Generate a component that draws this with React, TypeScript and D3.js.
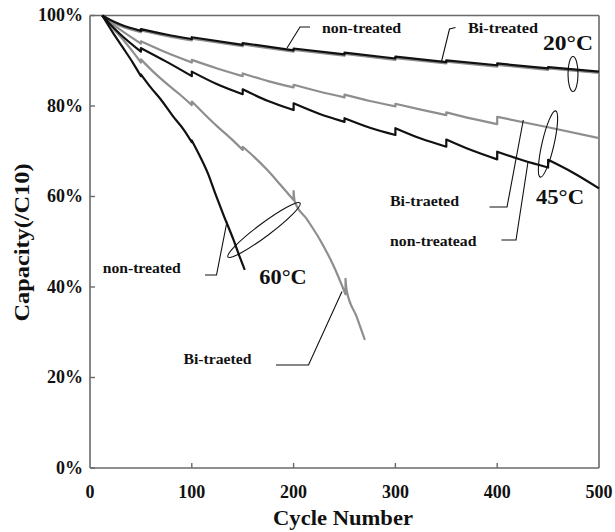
import React from "react";
import * as d3 from "d3";

// ---- data: [cycle, capacity %] (jumps every 50 cycles = capacity checks) ----
const s20NonTreated: [number, number][] = [
  [12, 100], [20, 99.0], [30, 98.0], [50, 96.6], [50, 97.0], [75, 95.8], [100, 94.8], [100, 95.2],
  [150, 93.5], [150, 93.9], [200, 92.3], [200, 92.7], [250, 91.4], [250, 91.8], [300, 90.5], [300, 90.9],
  [350, 89.7], [350, 90.1], [400, 89.0], [400, 89.4], [450, 88.3], [450, 88.6], [500, 87.6],
];
const s20BiTreated: [number, number][] = [
  [12, 100], [20, 98.7], [30, 97.7], [50, 96.3], [50, 96.7], [75, 95.5], [100, 94.5], [100, 94.9],
  [150, 93.2], [150, 93.6], [200, 92.0], [200, 92.4], [250, 91.1], [250, 91.5], [300, 90.2], [300, 90.6],
  [350, 89.4], [350, 89.8], [400, 88.7], [400, 89.1], [450, 88.0], [450, 88.3], [500, 87.3],
];
const s45BiTreated: [number, number][] = [
  [12, 100], [20, 98.5], [30, 96.8], [50, 93.8], [50, 94.3], [75, 91.8], [100, 89.6], [100, 90.2],
  [125, 88.3], [150, 86.6], [150, 87.2], [175, 85.5], [200, 84.1], [200, 84.7], [225, 83.2],
  [250, 81.9], [250, 82.5], [275, 81.1], [300, 79.9], [300, 80.5], [325, 79.2], [350, 78.0],
  [350, 78.6], [375, 77.2], [400, 76.0], [400, 77.6], [450, 75.3], [500, 72.9],
];
const s45NonTreated: [number, number][] = [
  [12, 100], [20, 98.0], [30, 95.8], [50, 92.0], [50, 92.8], [75, 89.8], [100, 86.6], [100, 87.6],
  [125, 84.8], [150, 82.6], [150, 83.7], [175, 81.1], [200, 79.1], [200, 80.6], [225, 78.3],
  [250, 76.5], [250, 77.3], [275, 75.2], [300, 73.6], [300, 75.1], [325, 72.8], [350, 71.0],
  [350, 72.6], [375, 70.2], [400, 68.2], [400, 69.9], [425, 68.0], [450, 66.4], [450, 68.1],
  [475, 65.2], [500, 61.8],
];
const s60NonTreated: [number, number][] = [
  [12, 100], [22, 96.4], [32, 93.0], [42, 89.6], [50, 86.6], [50, 87.0], [60, 84.0], [69, 81.6],
  [82, 77.6], [92, 74.8], [100, 72.0], [100, 72.4], [108, 68.9], [116, 65.0], [123, 60.7],
  [131, 56.0], [141, 50.4], [147, 46.7], [152, 43.8],
];
const s60BiTreated: [number, number][] = [
  [12, 100], [22, 97.3], [32, 94.8], [42, 92.0], [50, 89.6], [50, 90.3], [62, 87.6], [75, 85.0],
  [88, 82.6], [100, 80.2], [100, 81.0], [112, 78.3], [125, 75.5], [138, 72.9], [150, 70.3],
  [150, 71.0], [162, 68.6], [174, 65.9], [187, 62.6], [200, 59.2], [200, 61.2], [201, 59.0],
  [213, 55.0], [226, 50.4], [239, 44.8], [251, 38.4], [251, 41.8], [252, 39.4], [262, 33.4],
  [270, 28.3],
];

const xTicks = [0, 100, 200, 300, 400, 500];
const yTicks = [0, 20, 40, 60, 80, 100];

const BLACK = "#111";
const GRAY = "#8e8e8e";
const AXIS = "#6a6a6a";
const FONT = "'Liberation Serif', 'Times New Roman', serif";

export default function App() {
  const x = d3.scaleLinear().domain([0, 500]).range([90, 599]);
  const y = d3.scaleLinear().domain([0, 100]).range([468, 15.5]);
  const line = d3
    .line<[number, number]>()
    .x((d) => x(d[0]))
    .y((d) => y(d[1]))
    .curve(d3.curveMonotoneX);

  // split at jumps (same cycle twice) and join with vertical steps
  const pathFor = (data: [number, number][]) => {
    const segs: [number, number][][] = [];
    let cur: [number, number][] = [];
    data.forEach((p, i) => {
      if (i > 0 && p[0] <= data[i - 1][0]) {
        segs.push(cur);
        cur = [];
      }
      cur.push(p);
    });
    segs.push(cur);
    return segs
      .map((s, i) => {
        const d = s.length > 1 ? line(s) || "" : `M${x(s[0][0])},${y(s[0][1])}`;
        return i === 0 ? d : "L" + d.slice(1);
      })
      .join("");
  };

  const series = [
    { d: s20BiTreated, c: GRAY },
    { d: s45BiTreated, c: GRAY },
    { d: s60BiTreated, c: GRAY },
    { d: s20NonTreated, c: BLACK },
    { d: s45NonTreated, c: BLACK },
    { d: s60NonTreated, c: BLACK },
  ];

  const label = (t: string, px: number, py: number, w: number, size: number) => (
    <text
      x={px}
      y={py}
      fontFamily={FONT}
      fontWeight="bold"
      fontSize={size}
      textLength={w}
      lengthAdjust="spacingAndGlyphs"
      fill="#111"
    >
      {t}
    </text>
  );

  const leader = (pts: [number, number][]) => (
    <polyline
      points={pts.map((p) => p.join(",")).join(" ")}
      fill="none"
      stroke="#111"
      strokeWidth={1.1}
    />
  );

  return (
    <svg
      width={615}
      height={532}
      style={{ position: "absolute", left: 0, top: 0, background: "#fff" }}
    >
      {/* frame */}
      <line x1={x(0)} x2={x(500)} y1={y(100)} y2={y(100)} stroke={AXIS} strokeWidth={1.6} />
      <line x1={x(500)} x2={x(500)} y1={y(100)} y2={y(0)} stroke={AXIS} strokeWidth={1.6} />
      <line x1={x(0)} x2={x(0)} y1={y(100)} y2={y(0)} stroke={AXIS} strokeWidth={1.6} />
      <line x1={x(0)} x2={x(500)} y1={y(0)} y2={y(0)} stroke={AXIS} strokeWidth={1.6} />

      {/* y ticks */}
      {yTicks.map((t) => (
        <g key={"y" + t}>
          <line x1={x(0)} x2={x(0) + 5} y1={y(t)} y2={y(t)} stroke={AXIS} strokeWidth={1.4} />
          <text
            x={83}
            y={y(t) + 5.5}
            textAnchor="end"
            fontFamily={FONT}
            fontWeight="bold"
            fontSize={18}
            fill="#111"
          >
            {t + "%"}
          </text>
        </g>
      ))}
      {/* x ticks */}
      {xTicks.map((t) => (
        <g key={"x" + t}>
          {t > 0 && t < 500 && (
            <line x1={x(t)} x2={x(t)} y1={y(0)} y2={y(0) - 5} stroke={AXIS} strokeWidth={1.4} />
          )}
          <text
            x={x(t)}
            y={498}
            textAnchor="middle"
            fontFamily={FONT}
            fontWeight="bold"
            fontSize={18}
            fill="#111"
          >
            {t}
          </text>
        </g>
      ))}

      {/* axis titles */}
      <text
        x={343}
        y={525}
        textAnchor="middle"
        fontFamily={FONT}
        fontWeight="bold"
        fontSize={20}
        textLength={140}
        lengthAdjust="spacingAndGlyphs"
        fill="#111"
      >
        Cycle Number
      </text>
      <text
        transform="translate(28.5,242.5) rotate(-90)"
        textAnchor="middle"
        fontFamily={FONT}
        fontWeight="bold"
        fontSize={20}
        textLength={158}
        lengthAdjust="spacingAndGlyphs"
        fill="#111"
      >
        Capacity(/C10)
      </text>

      {/* curves */}
      {series.map((s, i) => (
        <path
          key={i}
          d={pathFor(s.d)}
          fill="none"
          stroke={s.c}
          strokeWidth={2.2}
          strokeLinejoin="round"
        />
      ))}

      {/* ellipses */}
      <ellipse cx={573} cy={74} rx={5} ry={17.5} fill="none" stroke="#111" strokeWidth={1.1} />
      <ellipse
        cx={0}
        cy={0}
        rx={6}
        ry={34}
        transform="translate(548,144) rotate(13)"
        fill="none"
        stroke="#111"
        strokeWidth={1.1}
      />
      <ellipse
        cx={0}
        cy={0}
        rx={45}
        ry={6.5}
        transform="translate(264,230) rotate(-36.8)"
        fill="none"
        stroke="#111"
        strokeWidth={1.1}
      />

      {/* leaders */}
      {leader([[287, 48], [300, 27], [310, 27]])}
      {leader([[441.5, 61.5], [449.5, 29], [455.5, 27.5]])}
      {leader([[489.5, 207], [507, 207], [523.3, 120]])}
      {leader([[501.5, 240], [516, 240], [528, 162]])}
      {leader([[205, 275], [216.5, 275], [227, 221.5]])}
      {leader([[276, 365], [308.5, 365], [342, 291.5]])}

      {/* annotations */}
      {label("non-treated", 322, 32.7, 79, 14.5)}
      {label("Bi-treated", 468, 32.7, 70, 14.5)}
      {label("20°C", 543, 50, 50, 21)}
      {label("Bi-traeted", 390, 206, 69, 14.5)}
      {label("non-treatead", 390, 246, 86.5, 14.5)}
      {label("45°C", 536, 204, 48, 21)}
      {label("non-treated", 102.7, 273.3, 78, 14.5)}
      {label("60°C", 259.3, 284.3, 47.4, 21)}
      {label("Bi-traeted", 183.5, 364.3, 68, 14.5)}
    </svg>
  );
}
